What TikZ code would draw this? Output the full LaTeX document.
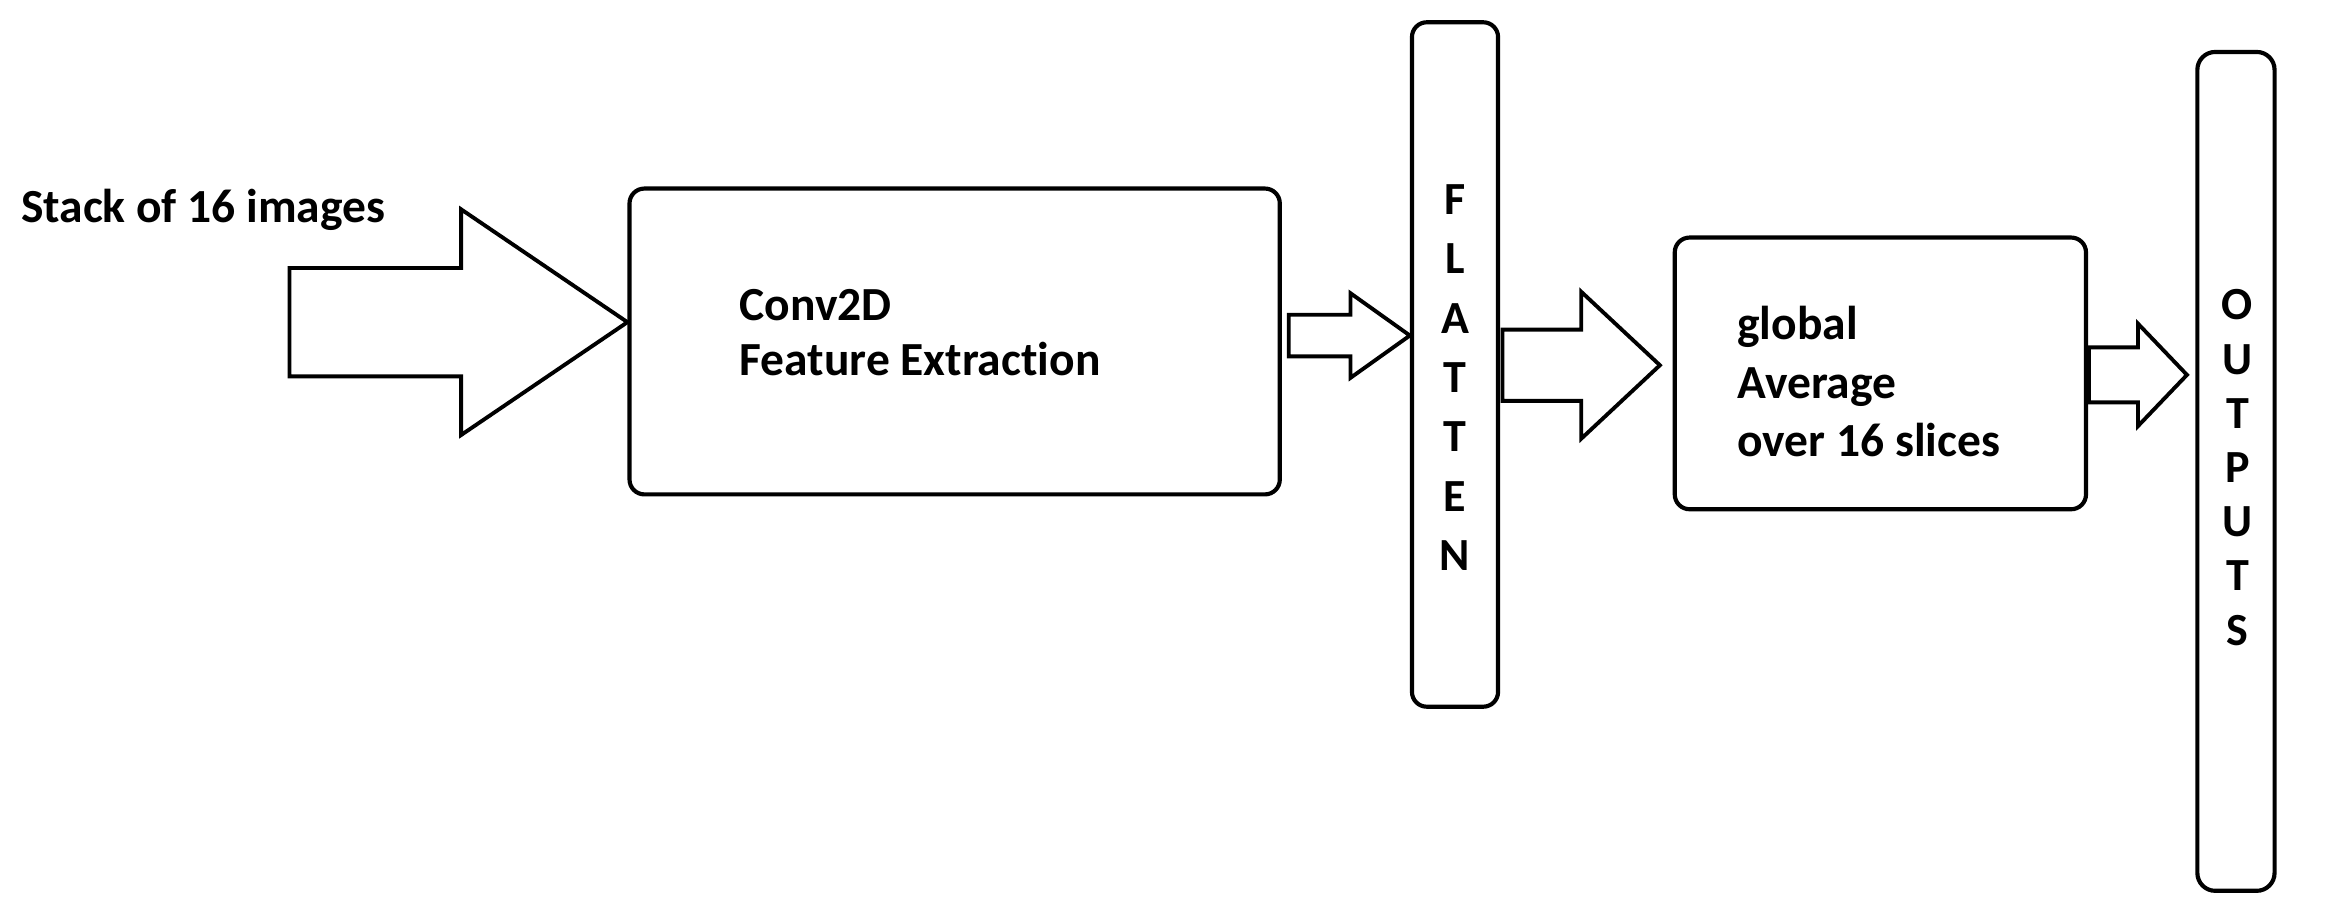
\documentclass[tikz,border=0pt]{standalone}
\usepackage{fontspec}
\setmainfont[Ligatures=NoCommon]{Carlito}
\usetikzlibrary{calc}

% block arrow: tail, tip, half body, half head, head length
\newcommand{\blockarrow}[5]{%
  \draw[blockarr] let \p1=(#1), \p2=(#2) in
    (\x1,\y2+#3) -- (\x2-#5,\y2+#3) -- (\x2-#5,\y2+#4) -- (\x2,\y2)
    -- (\x2-#5,\y2-#4) -- (\x2-#5,\y2-#3) -- (\x1,\y2-#3) -- cycle;}

\begin{document}
\begin{tikzpicture}[x=1pt, y=-1pt,
    every node/.style={font=\bfseries\fontsize{32}{37}\selectfont, inner sep=0pt},
    stage/.style={draw, line width=2.8pt, rounded corners=10pt},
    blockarr/.style={draw, line width=2.6pt, line join=miter},
    vtext/.style={align=center, font=\bfseries\fontsize{31}{40}\selectfont}]
    \useasboundingbox (0,0) rectangle (1568,614.3);

    % Input
    \node[anchor=base west] (stack) at (14,150) {Stack of 16 images};

    % Stages
    \node[stage, minimum width=438pt, minimum height=206pt] (conv) at (643,230) {};
    \node[anchor=north west, align=left] (convtxt) at (498,195) {Conv2D\\Feature Extraction};

    \node[stage, minimum width=58pt, minimum height=461pt] (flatten) at (980,245.5) {};
    \node[vtext, anchor=north] (flattxt) at (980,124) {F\\L\\A\\T\\T\\E\\N};

    \node[stage, minimum width=277pt, minimum height=183pt] (global) at (1266.5,251.5) {};
    \node[anchor=north west, align=left, font=\bfseries\fontsize{32}{39.5}\selectfont] (globtxt) at (1170,206) {global\\Average\\over 16 slices};

    \node[stage, minimum width=52pt, minimum height=565pt, rounded corners=12pt] (outputs) at (1506,317.5) {};
    \node[vtext, anchor=north, font=\bfseries\fontsize{31}{36.5}\selectfont] (outtxt) at (1507,195) {O\\U\\T\\P\\U\\T\\S};

    % Arrows
    \coordinate (t1) at (195,217);
    \coordinate (t2) at (868,226);
    \coordinate (t3) at (1012,246);
    \coordinate (h3) at (1118,246);
    \coordinate (t4) at (1407,252.5);
    \coordinate (h4) at (1473,252.5);
    \blockarrow{t1}{conv.west |- t1}{36.5}{76}{112}
    \blockarrow{t2}{flatten.west |- t2}{14}{28.5}{40}
    \blockarrow{t3}{h3}{24}{49.5}{53}
    \blockarrow{t4}{h4}{18.5}{34.5}{33}
\end{tikzpicture}
\end{document}
